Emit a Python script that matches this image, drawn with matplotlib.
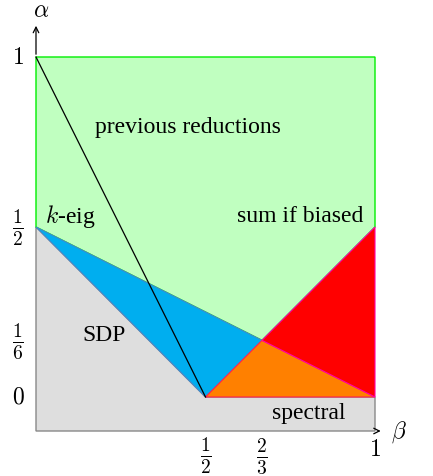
import matplotlib.pyplot as plt
from matplotlib.patches import Polygon

plt.rcParams['mathtext.fontset'] = 'cm'
plt.rcParams['font.family'] = ['Liberation Serif', 'DejaVu Serif']

# region corners (beta, alpha)
gray_pts = [(0, -0.1), (1, -0.1), (1, 0), (0.5, 0), (0, 0.5)]
green_pts = [(0, 1), (1, 1), (1, 0.5), (2 / 3, 1 / 6), (0, 0.5)]
blue_pts = [(0, 0.5), (0.5, 0), (2 / 3, 1 / 6)]
orange_pts = [(0.5, 0), (2 / 3, 1 / 6), (1, 0)]
red_pts = [(2 / 3, 1 / 6), (1, 0.5), (1, 0)]
diag_beta = [0, 0.5]
diag_alpha = [1, 0]

yticks = [1, 0.5, 1 / 6, 0]
ytick_labels = ['$1$', r'$\frac{1}{2}$', r'$\frac{1}{6}$', '$0$']
xticks = [0.5, 2 / 3, 1]
xtick_labels = [r'$\frac{1}{2}$', r'$\frac{2}{3}$', '$1$']

fig = plt.figure(figsize=(4.33, 4.77), dpi=100)
ax = fig.add_axes([0, 0, 1, 1])
ax.set_xlim(-36 / 339, 397 / 339)
ax.set_ylim(-79 / 340, 398 / 340)
ax.axis('off')

ax.add_patch(Polygon(gray_pts, closed=True, fc='#dedede', ec='#888888', lw=1))
ax.add_patch(Polygon(green_pts, closed=True, fc='#c0ffc0', ec='#00ee00', lw=1))
ax.add_patch(Polygon(blue_pts, closed=True, fc='#00aeef', ec='#4488cc', lw=0.8))
ax.add_patch(Polygon(orange_pts, closed=True, fc='#ff8000', ec='#ff2050', lw=0.8))
ax.add_patch(Polygon(red_pts, closed=True, fc='#ff0000', ec='#ff00aa', lw=0.8))
ax.plot(diag_beta, diag_alpha, color='black', lw=0.9)

# axes arrows
ax.annotate('', xy=(1.025, -0.1), xytext=(1.0, -0.1),
            arrowprops=dict(arrowstyle='->', lw=0.9, color='black'))
ax.annotate('', xy=(0, 1.1), xytext=(0, 1.0),
            arrowprops=dict(arrowstyle='->', lw=0.9, color='black'))
ax.text(0.015, 1.135, r'$\alpha$', fontsize=17, ha='center', va='center')
ax.text(1.07, -0.1, r'$\beta$', fontsize=17, ha='center', va='center')

for y, lab in zip(yticks, ytick_labels):
    size = 17 if 'frac' not in lab else 20
    ax.text(-0.053, y, lab, fontsize=size, ha='center', va='center')
for x, lab in zip(xticks, xtick_labels):
    if lab == '$1$':
        ax.text(x, -0.155, lab, fontsize=17, ha='center', va='center')
    else:
        ax.text(x, -0.17, lab, fontsize=20, ha='center', va='center')

ax.text(0.448, 0.797, 'previous reductions', fontsize=17, ha='center', va='center')
ax.text(0.027, 0.535, '$k$-eig', fontsize=17, ha='left', va='center')
ax.text(0.78, 0.535, 'sum if biased', fontsize=17, ha='center', va='center')
ax.text(0.2, 0.185, 'SDP', fontsize=17, ha='center', va='center')
ax.text(0.805, -0.045, 'spectral', fontsize=17, ha='center', va='center')

fig.savefig('out.png', dpi=100)
